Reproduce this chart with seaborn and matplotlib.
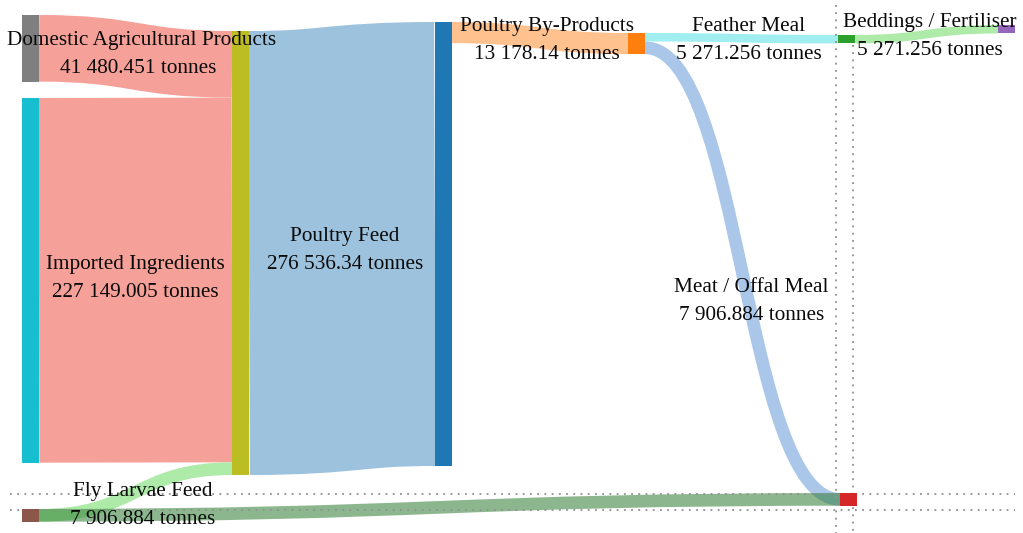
import matplotlib
matplotlib.use("Agg")
import matplotlib.pyplot as plt
from matplotlib.path import Path
from matplotlib.patches import PathPatch, Rectangle
import seaborn as sns

# ---- flows (tonnes) ----
node_keys = ["domestic", "imported", "fly_larvae", "feed_mill", "poultry_feed",
             "by_products", "feather_meal", "meat_meal", "bedding"]
link_sources = ["domestic", "imported", "fly_larvae", "feed_mill", "poultry_feed",
                "by_products", "by_products", "feather_meal", "meat_meal"]
link_targets = ["feed_mill", "feed_mill", "feed_mill", "poultry_feed", "by_products",
                "feather_meal", "meat_meal", "bedding", "fly_larvae"]
link_values = [41480.451, 227149.005, 7906.884, 276536.34, 13178.14,
               5271.256, 7906.884, 5271.256, 7906.884]
link_labels = ["Domestic Agricultural Products", "Imported Ingredients", "Fly Larvae Feed",
               "Poultry Feed", "Poultry By-Products", "Feather Meal", "Meat / Offal Meal",
               "Beddings / Fertiliser", None]
unit = "tonnes"

# ---- layout (pixel canvas) ----
W, H, DPI = 1023, 533, 100
node_width = 17
tallest_node_px = 444
node_left = {"domestic": 22, "imported": 22, "fly_larvae": 22, "feed_mill": 232,
             "poultry_feed": 435, "by_products": 628, "feather_meal": 838,
             "meat_meal": 840, "bedding": 998}
node_top = {"domestic": 15, "imported": 98, "fly_larvae": 509, "feed_mill": 31,
            "poultry_feed": 22, "by_products": 33, "feather_meal": 35,
            "meat_meal": 493, "bedding": 25}

sns.set_theme(style="white")
tab = sns.color_palette("tab10")
node_color = {"domestic": tab[7], "imported": tab[9], "fly_larvae": tab[5],
              "feed_mill": tab[8], "poultry_feed": tab[0], "by_products": tab[1],
              "feather_meal": tab[2], "meat_meal": tab[3], "bedding": tab[4]}
link_color = ["#f5a098", "#f5a098", "#aeeba8", "#9cc2dd", "#ffc28f",
              "#a0eef0", "#aac7ea", "#aeeba8", "#2e7d32"]
link_alpha = [1, 1, 1, 1, 1, 1, 1, 1, 0.55]
label_nudge = {0: (0, -4), 1: (-3, -4), 2: (4, 11.5), 4: (4, 0), 5: (4, 0), 6: (6, 26)}

plt.rcParams["font.family"] = ["Liberation Serif", "DejaVu Serif"]

fig = plt.figure(figsize=(W / DPI, H / DPI), dpi=DPI)
ax = fig.add_axes([0, 0, 1, 1])
ax.set_xlim(0, W)
ax.set_ylim(H, 0)
ax.set_axis_off()

# node throughput sets node height
inflow = {k: 0.0 for k in node_keys}
outflow = {k: 0.0 for k in node_keys}
for s, t, v in zip(link_sources, link_targets, link_values):
    outflow[s] += v
    inflow[t] += v
throughput = {k: max(inflow[k], outflow[k]) for k in node_keys}
px_per_tonne = tallest_node_px / max(throughput.values())

out_off = {k: 0.0 for k in node_keys}
in_off = {k: 0.0 for k in node_keys}
mids = []
for i, (s, t, v) in enumerate(zip(link_sources, link_targets, link_values)):
    thick = v * px_per_tonne
    sy = node_top[s] + out_off[s] + thick / 2
    ty = node_top[t] + in_off[t] + thick / 2
    out_off[s] += thick
    in_off[t] += thick
    sx = node_left[s] + node_width
    tx = node_left[t]
    xm = (sx + tx) / 2
    path = Path([(sx, sy), (xm, sy), (xm, ty), (tx, ty)],
                [Path.MOVETO, Path.CURVE4, Path.CURVE4, Path.CURVE4])
    ax.add_patch(PathPatch(path, fill=False, edgecolor=link_color[i],
                           alpha=link_alpha[i], linewidth=thick * 72 / DPI,
                           capstyle="butt", zorder=2 if link_alpha[i] < 1 else 1))
    mids.append(((sx + tx) / 2, (sy + ty) / 2))

# guide lines through the loop-back node
dot = dict(color="#8f8f8f", linewidth=1.3, linestyle=(0, (1, 3)), zorder=3)
ax.plot([10, 1015], [494, 494], **dot)
ax.plot([10, 1015], [510, 510], **dot)
ax.plot([836, 836], [5, 533], **dot)
ax.plot([853, 853], [45, 533], **dot)

for k in node_keys:
    ax.add_patch(Rectangle((node_left[k], node_top[k]), node_width,
                           throughput[k] * px_per_tonne, facecolor=node_color[k],
                           edgecolor="none", zorder=4))

fig.canvas.draw()
renderer = fig.canvas.get_renderer()
for i, lab in enumerate(link_labels):
    if lab is None:
        continue
    mx, my = mids[i]
    dx, dy = label_nudge.get(i, (0, 0))
    x = mx + 3 + dx
    y = my + dy
    amount = format(link_values[i], ",").replace(",", " ") + " " + unit
    t1 = ax.text(x, y - 7.5, lab, ha="center", va="baseline", fontsize=15.3,
                 color="#0a0a0a", zorder=5)
    t2 = ax.text(x, y + 20.5, amount, ha="center", va="baseline", fontsize=15.3,
                 color="#0a0a0a", zorder=5)
    bb = t1.get_window_extent(renderer)
    if bb.x0 < 7:
        t1.set_x(x + (7 - bb.x0))

fig.savefig("out.png", dpi=DPI)
